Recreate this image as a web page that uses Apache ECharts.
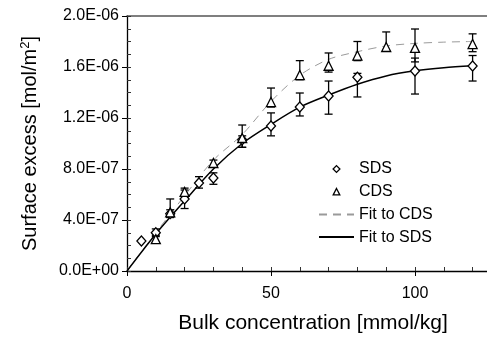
<!DOCTYPE html>
<html>
<head>
<meta charset="utf-8">
<script src="https://cdn.jsdelivr.net/npm/echarts@6/dist/echarts.min.js"></script>
<style>html,body{margin:0;padding:0;background:#fff}#c{width:487px;height:340px}</style>
</head>
<body>
<div id="c"></div>
<script>
// Values of surface excess in units of 1e-6 mol/m2
const sdsConc = [5, 10, 15, 20, 25, 30, 40, 50, 60, 70, 80, 100, 120];
const sdsValues = [0.235, 0.30, 0.45, 0.565, 0.69, 0.73, 1.03, 1.137, 1.286, 1.373, 1.52, 1.569, 1.608];
const sdsLow = [null, 0.27, 0.42, 0.49, 0.65, 0.68, 0.97, 1.06, 1.216, 1.23, 1.365, 1.388, 1.49];
const sdsHigh = [null, 0.33, 0.48, 0.635, 0.74, 0.77, 1.06, 1.24, 1.396, 1.49, 1.55, 1.67, 1.69];

const cdsConc = [10, 15, 20, 30, 40, 50, 60, 70, 80, 90, 100, 120];
const cdsValues = [0.25, 0.46, 0.62, 0.847, 1.043, 1.325, 1.537, 1.61, 1.69, 1.757, 1.75, 1.78];
const cdsLow = [0.22, 0.42, 0.59, 0.82, 0.97, 1.286, 1.50, 1.56, 1.65, 1.725, 1.64, 1.72];
const cdsHigh = [0.28, 0.565, 0.65, 0.87, 1.145, 1.435, 1.65, 1.71, 1.80, 1.875, 1.898, 1.86];

const fitConc = [0, 10, 20, 30, 40, 50, 60, 70, 80, 90, 100, 110, 120];
const fitSDS = [0, 0.29, 0.55, 0.80, 1.0, 1.15, 1.285, 1.38, 1.465, 1.53, 1.57, 1.595, 1.61];
const fitCDS = [0, 0.30, 0.59, 0.87, 1.07, 1.33, 1.535, 1.66, 1.72, 1.765, 1.785, 1.795, 1.80];

const yTicks = [0, 0.4, 0.8, 1.2, 1.6, 2.0];
const xLabels = ['0', '50', '100'];

const FONT = "'Liberation Sans', Arial, sans-serif";
const UNIT = 1e-6;

function fmtExp(v) {
  const real = v * UNIT;
  if (Math.abs(real) < 1e-15) return '0.0E+00';
  let e = Math.floor(Math.log10(Math.abs(real)) + 1e-9);
  let m = real / Math.pow(10, e);
  let ms = m.toFixed(1);
  if (ms === '10.0') { e += 1; ms = '1.0'; }
  const sign = e < 0 ? '-' : '+';
  const es = String(Math.abs(e)).padStart(2, '0');
  return ms + 'E' + sign + es;
}

function zip(xs, ys) { return xs.map((x, i) => [x, ys[i]]); }
function errData(xs, lo, hi) {
  const out = [];
  xs.forEach((x, i) => { if (lo[i] != null && hi[i] != null) out.push([x, lo[i], hi[i]]); });
  return out;
}
function renderErr(params, api) {
  const x = api.value(0), lo = api.value(1), hi = api.value(2);
  const a = api.coord([x, lo]), b = api.coord([x, hi]);
  const w = 4;
  const style = { stroke: '#000', lineWidth: 1.3, fill: null };
  return {
    type: 'group',
    children: [
      { type: 'line', shape: { x1: a[0], y1: a[1], x2: b[0], y2: b[1] }, style: style },
      { type: 'line', shape: { x1: a[0] - w, y1: a[1], x2: a[0] + w, y2: a[1] }, style: style },
      { type: 'line', shape: { x1: b[0] - w, y1: b[1], x2: b[0] + w, y2: b[1] }, style: style }
    ]
  };
}

// legend icons: small centred marker inside a 35x14 box
const ICON_DIAMOND = 'path://M0,0 M35,14 M17.5,3.6 L20.9,7 L17.5,10.4 L14.1,7 Z';
const ICON_TRIANGLE = 'path://M0,0 M35,14 M17.5,3.8 L20.8,10.2 L14.2,10.2 Z';
const MARK_STYLE = { color: '#fff', borderColor: '#000', borderWidth: 1.3, opacity: 1 };

const chart = echarts.init(document.getElementById('c'), null, { renderer: 'canvas' });
const option = {
  animation: false,
  backgroundColor: '#fff',
  textStyle: { fontFamily: FONT },
  grid: { left: 127, right: 0, top: 16, bottom: 69, containLabel: false },
  legend: {
    orient: 'vertical',
    left: 313, top: 156,
    padding: 5,
    itemWidth: 35, itemHeight: 14, itemGap: 6.7,
    textStyle: { fontFamily: FONT, fontSize: 16, color: '#000' },
    data: [
      { name: 'SDS', icon: ICON_DIAMOND, itemStyle: MARK_STYLE },
      { name: 'CDS', icon: ICON_TRIANGLE, itemStyle: MARK_STYLE },
      { name: 'Fit to CDS', itemStyle: { opacity: 0 } },
      { name: 'Fit to SDS', itemStyle: { opacity: 0 } }
    ]
  },
  xAxis: [
    {
      type: 'value', position: 'bottom', min: 0, max: 125, interval: 50,
      name: 'Bulk concentration [mmol/kg]', nameLocation: 'middle', nameGap: 42,
      nameTextStyle: { fontFamily: FONT, fontSize: 21, color: '#000', padding: [0, 0, 0, 12] },
      axisLine: { show: true, lineStyle: { color: '#000', width: 1.3 } },
      axisTick: { show: true, inside: false, length: 5, lineStyle: { color: '#000', width: 1 } },
      axisLabel: {
        fontFamily: FONT, fontSize: 16, color: '#000', margin: 15, showMaxLabel: false,
        formatter: function (v) { const s = String(Math.round(v)); return xLabels.indexOf(s) >= 0 ? s : ''; }
      },
      splitLine: { show: false }
    },
    {
      type: 'value', position: 'bottom', min: 0, max: 125, interval: 10,
      axisLine: { show: false },
      axisTick: { show: true, inside: true, length: 4, lineStyle: { color: '#333', width: 1 } },
      axisLabel: { show: false },
      splitLine: { show: false }
    },
    {
      type: 'value', position: 'top', min: 0, max: 125, interval: 50,
      axisLine: { show: true, lineStyle: { color: '#555', width: 1.5 } },
      axisTick: { show: false }, axisLabel: { show: false }, splitLine: { show: false }
    }
  ],
  yAxis: [
    {
      type: 'value', position: 'left', min: 0, max: 2.0, interval: 0.4,
      name: 'Surface excess [mol/m{sup|2}]', nameLocation: 'middle', nameGap: 86, nameRotate: 90,
      nameTextStyle: {
        fontFamily: FONT, fontSize: 20, color: '#000',
        rich: { sup: { fontFamily: FONT, fontSize: 13, color: '#000', verticalAlign: 'top', padding: [0, 0, 9, 0] } }
      },
      axisLine: { show: true, lineStyle: { color: '#000', width: 1.3 } },
      axisTick: { show: true, inside: false, length: 5, lineStyle: { color: '#000', width: 1 } },
      axisLabel: {
        fontFamily: FONT, fontSize: 16, color: '#000', margin: 8,
        formatter: function (v) { return fmtExp(v); }
      },
      splitLine: { show: false }
    },
    {
      type: 'value', position: 'left', min: 0, max: 2.0, interval: 0.1,
      axisLine: { show: false },
      axisTick: { show: true, inside: true, length: 4, lineStyle: { color: '#333', width: 1 } },
      axisLabel: { show: false },
      splitLine: { show: false }
    }
  ],
  series: [
    {
      name: 'Fit to CDS', type: 'line', smooth: 0.3, symbol: 'none',
      xAxisIndex: 0, yAxisIndex: 0,
      lineStyle: { color: '#9a9a9a', width: 1, type: [8, 6] },
      itemStyle: { color: '#9a9a9a' },
      data: zip(fitConc, fitCDS), z: 2
    },
    {
      name: 'Fit to SDS', type: 'line', smooth: 0.3, symbol: 'none',
      xAxisIndex: 0, yAxisIndex: 0,
      lineStyle: { color: '#000', width: 1.5 },
      itemStyle: { color: '#000' },
      data: zip(fitConc, fitSDS), z: 3
    },
    {
      name: 'SDS err', type: 'custom', renderItem: renderErr,
      xAxisIndex: 0, yAxisIndex: 0,
      encode: { x: 0, y: [1, 2] },
      data: errData(sdsConc, sdsLow, sdsHigh), z: 4
    },
    {
      name: 'CDS err', type: 'custom', renderItem: renderErr,
      xAxisIndex: 0, yAxisIndex: 0,
      encode: { x: 0, y: [1, 2] },
      data: errData(cdsConc, cdsLow, cdsHigh), z: 4
    },
    {
      name: 'SDS', type: 'scatter', symbol: 'diamond', symbolSize: [9, 10],
      xAxisIndex: 0, yAxisIndex: 0,
      itemStyle: MARK_STYLE,
      data: zip(sdsConc, sdsValues), z: 5
    },
    {
      name: 'CDS', type: 'scatter', symbol: 'triangle', symbolSize: [9, 9],
      xAxisIndex: 0, yAxisIndex: 0,
      itemStyle: MARK_STYLE,
      data: zip(cdsConc, cdsValues), z: 5
    }
  ]
};
chart.setOption(option);
</script>
</body>
</html>
